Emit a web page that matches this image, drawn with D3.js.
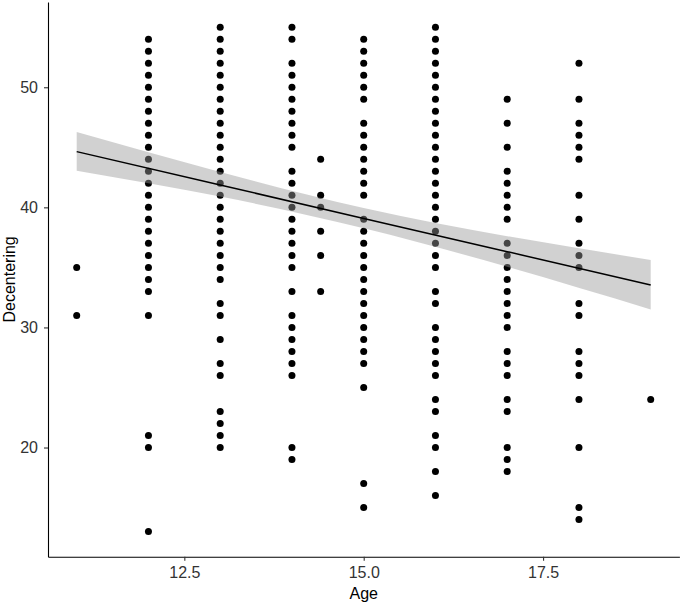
<!DOCTYPE html>
<html>
<head>
<meta charset="utf-8">
<script src="https://cdn.jsdelivr.net/npm/d3@7"></script>
<style>
    body { margin: 0; background: #ffffff; }
    text { font-family: "Liberation Sans", Arial, sans-serif; }
</style>
</head>
<body>
<div id="svgElement"></div>
<script>

// ages (x) and the decentering values read at each age
var ages = [11, 12, 13, 14, 14.4, 15, 16, 17, 18, 19];

var age11 = [35, 31];
var age12 = [54, 53, 52, 51, 50, 49, 48, 47, 46, 45, 44, 43, 42, 41, 40, 39, 38, 37, 36, 35, 34, 33, 31, 21, 20, 13];
var age13 = [55, 54, 53, 52, 51, 50, 49, 48, 47, 46, 45, 44, 43, 42, 41, 40, 39, 38, 37, 36, 35, 34, 32, 31, 29, 27, 26, 23, 22, 21, 20];
var age14 = [55, 54, 52, 51, 50, 49, 48, 47, 46, 45, 43, 42, 41, 40, 39, 38, 37, 36, 35, 33, 31, 30, 29, 28, 27, 26, 20, 19];
var age14_4 = [44, 41, 40, 38, 36, 33];
var age15 = [54, 53, 52, 51, 50, 49, 47, 46, 45, 44, 43, 42, 41, 39, 38, 37, 36, 35, 34, 33, 32, 31, 30, 29, 28, 27, 25, 17, 15];
var age16 = [55, 54, 53, 52, 51, 50, 49, 48, 47, 46, 45, 44, 43, 42, 41, 40, 39, 38, 37, 36, 35, 33, 32, 30, 29, 28, 27, 26, 24, 23, 21, 20, 18, 16];
var age17 = [49, 47, 45, 43, 42, 41, 40, 39, 37, 36, 35, 34, 33, 32, 31, 30, 28, 27, 26, 24, 23, 20, 19, 18];
var age18 = [52, 49, 47, 46, 45, 44, 41, 39, 37, 36, 35, 32, 31, 28, 27, 26, 24, 20, 15, 14];
var age19 = [24];

var decentering = [age11, age12, age13, age14, age14_4, age15, age16, age17, age18, age19];

// fitted line and its confidence band
var fitAge = [11, 13, 15, 17, 19];
var fitMean = [44.64, 41.86, 39.08, 36.31, 33.53];
var fitLower = [43.05, 40.9, 38.25, 35.05, 31.5];
var fitUpper = [46.28, 42.95, 39.95, 37.6, 35.62];

var xTicks = [12.5, 15.0, 17.5];
var yTicks = [20, 30, 40, 50];

function scatterChart() {

    var margin = {top: 2, right: 0.6, bottom: 46.2, left: 48},
        width = 680 - margin.left - margin.right,
        height = 603 - margin.top - margin.bottom;

    // flatten into points
    var points = [];
    ages.forEach(function(a, i) {
        decentering[i].forEach(function(v) { points.push([a, v]); });
    });

    var xCol = points.map(function(d) { return d[0]; });
    var yCol = points.map(function(d) { return d[1]; });
    var xMin = d3.min(xCol), xMax = d3.max(xCol);
    var yMin = d3.min(yCol), yMax = d3.max(yCol);
    var xPad = (xMax - xMin) * 0.05, yPad = (yMax - yMin) * 0.05;

    var xScale = d3.scaleLinear()
        .domain([xMin - xPad, xMax + xPad])
        .range([0, width]);

    var yScale = d3.scaleLinear()
        .domain([yMin - yPad, yMax + yPad])
        .range([height, 0]);

    var fit = fitAge.map(function(a, i) {
        return {x: a, y: fitMean[i], lo: fitLower[i], hi: fitUpper[i]};
    });

    var svg = d3.select("#svgElement").append("svg")
        .attr("width", 680)
        .attr("height", 603)
        .append("g")
        .attr("transform", "translate(" + margin.left + "," + margin.top + ")");

    svg.selectAll(".dot")
        .data(points)
        .enter().append("circle")
        .attr("class", "dot")
        .attr("cx", function(d) { return xScale(d[0]); })
        .attr("cy", function(d) { return yScale(d[1]); })
        .attr("r", 3.5)
        .style("fill", "#000000");

    svg.append("path")
        .datum(fit)
        .attr("d", d3.area()
            .curve(d3.curveNatural)
            .x(function(d) { return xScale(d.x); })
            .y0(function(d) { return yScale(d.lo); })
            .y1(function(d) { return yScale(d.hi); }))
        .style("fill", "#999999")
        .style("fill-opacity", 0.45);

    svg.append("path")
        .datum(fit)
        .attr("d", d3.line()
            .x(function(d) { return xScale(d.x); })
            .y(function(d) { return yScale(d.y); }))
        .style("fill", "none")
        .style("stroke", "#000000")
        .style("stroke-width", 1.5);

    // x axis
    var gx = svg.append("g")
        .attr("class", "x axis")
        .attr("transform", "translate(0," + height + ")")
        .call(d3.axisBottom(xScale).tickValues(xTicks).tickFormat(d3.format(".1f"))
            .tickSize(4).tickSizeOuter(0).tickPadding(6));

    // y axis
    var gy = svg.append("g")
        .attr("class", "y axis")
        .call(d3.axisLeft(yScale).tickValues(yTicks)
            .tickSize(4).tickSizeOuter(0).tickPadding(6));

    [gx, gy].forEach(function(g) {
        g.select(".domain").style("stroke", "#000000").style("stroke-width", 1.1);
        g.selectAll(".tick line").style("stroke", "#333333").style("stroke-width", 1.1);
        g.selectAll(".tick text")
            .style("font-size", "16px")
            .style("font-family", "'Liberation Sans', Arial, sans-serif")
            .style("fill", "#333333");
    });

    // text label for the x axis
    svg.append("text")
        .attr("transform", "translate(" + (width / 2) + "," + (height + 42) + ")")
        .style("text-anchor", "middle")
        .style("font-size", "16px")
        .text("Age");

    // text label for the y axis
    svg.append("text")
        .attr("transform", "rotate(-90)")
        .attr("y", 15 - margin.left)
        .attr("x", 0 - (height / 2))
        .style("text-anchor", "middle")
        .style("font-size", "16px")
        .text("Decentering");
}

scatterChart();

</script>
</body>
</html>
